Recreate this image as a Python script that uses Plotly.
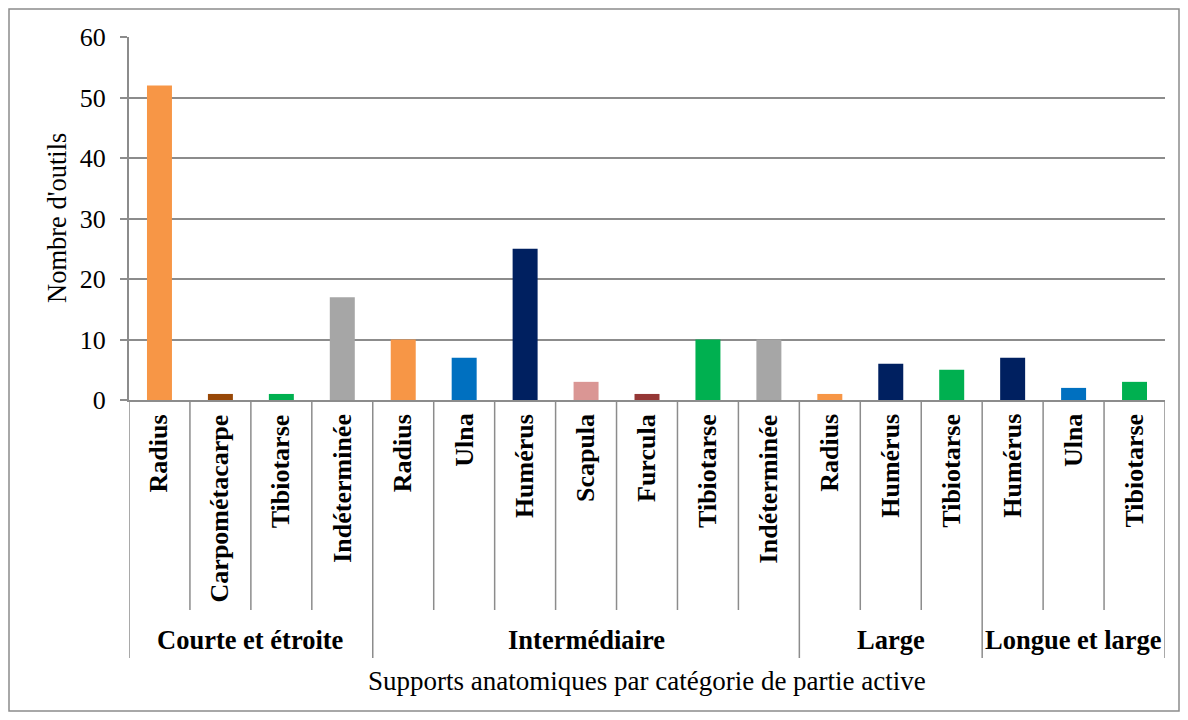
import plotly.graph_objects as go

groups = ["Courte et étroite", "Intermédiaire", "Large", "Longue et large"]
group_bones = [
    ["Radius", "Carpométacarpe", "Tibiotarse", "Indéterminée"],
    ["Radius", "Ulna", "Humérus", "Scapula", "Furcula", "Tibiotarse", "Indéterminée"],
    ["Radius", "Humérus", "Tibiotarse"],
    ["Humérus", "Ulna", "Tibiotarse"],
]
group_values = [
    [52, 1, 1, 17],
    [10, 7, 25, 3, 1, 10, 10],
    [1, 6, 5],
    [7, 2, 3],
]
bone_colors = {
    "Radius": "#F79646",
    "Carpométacarpe": "#984807",
    "Tibiotarse": "#00B050",
    "Indéterminée": "#A6A6A6",
    "Ulna": "#0070C0",
    "Humérus": "#002060",
    "Scapula": "#DA9694",
    "Furcula": "#953735",
}
y_ticks = [0, 10, 20, 30, 40, 50, 60]
y_title = "Nombre d'outils"
x_title = "Supports anatomiques par catégorie de partie active"

FONT = "Liberation Serif"
OFF = 8  # page offset of the figure inside the browser body
# page-pixel geometry of the reference
PAGE_L, PAGE_R, PAGE_T, PAGE_B = 129, 1165, 37, 400
BOX_L, BOX_R, BOX_T, BOX_B = 8, 1180, 8, 712
W, H = BOX_R - OFF, BOX_B - OFF
L, T = PAGE_L - OFF, PAGE_T - OFF
R, B = W - (PAGE_R - OFF), H - (PAGE_B - OFF)
PW, PH = W - L - R, H - T - B

bones, values, colors = [], [], []
for gb, gv in zip(group_bones, group_values):
    bones += gb
    values += gv
    colors += [bone_colors[b] for b in gb]
xs = list(range(len(bones)))

fig = go.Figure(go.Bar(x=xs, y=values, marker_color=colors, marker_line_width=0, width=0.41))

def py(p):
    return (PAGE_B - p) / PH

def px(p):
    return (p - PAGE_L) / PW

shapes = []
annotations = []
GRID = "#8C8C8C"
start = 0
bounds = [-0.5]
for g, gb in zip(groups, group_bones):
    n = len(gb)
    for k in range(n):
        i = start + k
        annotations.append(dict(x=i, y=py(412), xref="x", yref="paper", text="<b>%s</b>" % bones[i],
                                textangle=-90, showarrow=False, yanchor="top", xanchor="center",
                                font=dict(family=FONT, size=26, color="black")))
        if k > 0:
            shapes.append(dict(type="line", xref="x", yref="paper", x0=i - 0.5, x1=i - 0.5,
                               y0=0, y1=py(610), line=dict(color=GRID, width=1.5)))
    annotations.append(dict(x=start + (n - 1) / 2, y=py(640), xref="x", yref="paper", text="<b>%s</b>" % g,
                            showarrow=False, yanchor="middle", xanchor="center",
                            font=dict(family=FONT, size=26.5, color="black")))
    start += n
    bounds.append(start - 0.5)
for b in bounds:
    shapes.append(dict(type="line", xref="x", yref="paper", x0=b, x1=b,
                       y0=0, y1=py(658), line=dict(color=GRID, width=1.5)))
shapes.append(dict(type="rect", xref="paper", yref="paper", x0=px(BOX_L + 1), x1=px(BOX_R - 1),
                   y0=py(BOX_B - 1), y1=py(BOX_T + 1),
                   line=dict(color="#8C8C8C", width=1.5), fillcolor="rgba(0,0,0,0)", layer="below"))

annotations.append(dict(x=0.5, y=py(681), xref="paper", yref="paper", text=x_title, showarrow=False,
                        yanchor="middle", font=dict(family=FONT, size=27, color="black")))
annotations.append(dict(x=px(57), y=py(218), xref="paper", yref="paper", text=y_title, showarrow=False,
                        textangle=-90, xanchor="center", yanchor="middle",
                        font=dict(family=FONT, size=26.5, color="black")))

fig.update_layout(
    width=W, height=H, margin=dict(l=L, r=R, t=T, b=B),
    paper_bgcolor="white", plot_bgcolor="white", showlegend=False,
    shapes=shapes, annotations=annotations,
    xaxis=dict(range=[-0.5, len(bones) - 0.5], showticklabels=False, ticks="", showgrid=False,
               zeroline=False, showline=True, linecolor=GRID, linewidth=2),
    yaxis=dict(range=[0, 60], tickvals=y_ticks, showgrid=True, gridcolor=GRID, gridwidth=2,
               zeroline=False, showline=True, linecolor=GRID, linewidth=2,
               ticks="outside", ticklen=7, tickcolor=GRID, tickwidth=2,
               tickfont=dict(family=FONT, size=26, color="black"), ticklabelstandoff=9),
)
fig.write_html("out.html")
